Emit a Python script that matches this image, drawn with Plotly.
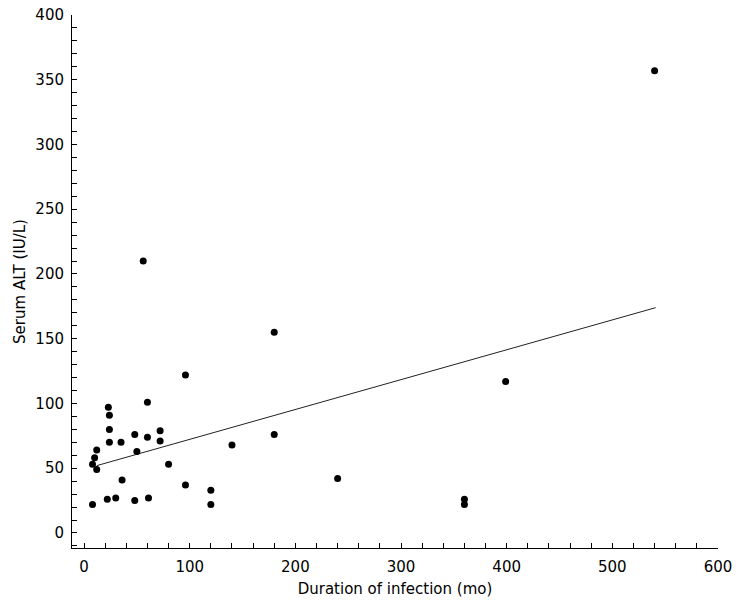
import plotly.graph_objects as go

# Duration of infection (months)
duration_mo = [8, 10, 12, 12, 8, 23, 24, 24, 24, 22, 30, 35, 36, 48, 50, 48,
               60, 60, 61, 72, 72, 80, 96, 96, 120, 120, 140, 180, 180, 240,
               360, 360, 399, 540, 56]
# Serum ALT (IU/L)
serum_alt = [53, 58, 64, 49, 22, 97, 91, 80, 70, 26, 27, 70, 41, 76, 63, 25,
             101, 74, 27, 79, 71, 53, 122, 37, 33, 22, 68, 155, 76, 42,
             26, 22, 117, 357, 210]

# Regression line end points
fit_x = [12, 541]
fit_y = [52, 174]

x_ticks = [0, 100, 200, 300, 400, 500, 600]
y_ticks = [0, 50, 100, 150, 200, 250, 300, 350, 400]

font_family = "DejaVu Sans"

fig = go.Figure()
fig.add_trace(go.Scatter(
    x=fit_x, y=fit_y, mode="lines",
    line=dict(color="#222222", width=1),
    showlegend=False, hoverinfo="skip"))
fig.add_trace(go.Scatter(
    x=duration_mo, y=serum_alt, mode="markers",
    marker=dict(color="black", size=7),
    showlegend=False))

axis_common = dict(
    showgrid=False, zeroline=False,
    showline=True, linecolor="black", linewidth=1,
    ticks="inside", ticklen=5, tickwidth=1, tickcolor="black",
    tickfont=dict(family=font_family, size=15, color="black"),
    ticklabeloverflow="allow",
)

fig.update_xaxes(
    range=[-11.4, 600], tickmode="array", tickvals=x_ticks,
    minor=dict(dtick=20, ticks="inside", ticklen=5, tickcolor="black", showgrid=False),
    title=dict(text="Duration of infection (mo)",
               font=dict(family=font_family, size=15, color="black"), standoff=8),
    ticklabelstandoff=5,
    **axis_common)
fig.update_yaxes(
    range=[-11.6, 400], tickmode="array", tickvals=y_ticks,
    minor=dict(dtick=10, ticks="inside", ticklen=5, tickcolor="black", showgrid=False),
    title=dict(text="Serum ALT (IU/L)",
               font=dict(family=font_family, size=15, color="black"), standoff=6),
    ticklabelstandoff=4,
    **axis_common)

fig.update_layout(
    width=744, height=611,
    margin=dict(l=72, r=26, t=15, b=63, autoexpand=False),
    paper_bgcolor="white", plot_bgcolor="white",
    font=dict(family=font_family, size=15, color="black"),
)

# Remove the default 8px page margin so the figure sits at the window origin
fig.write_html("out.html",
               config={"displayModeBar": False},
               post_script="document.body.style.margin='0';document.body.style.overflow='hidden';")
